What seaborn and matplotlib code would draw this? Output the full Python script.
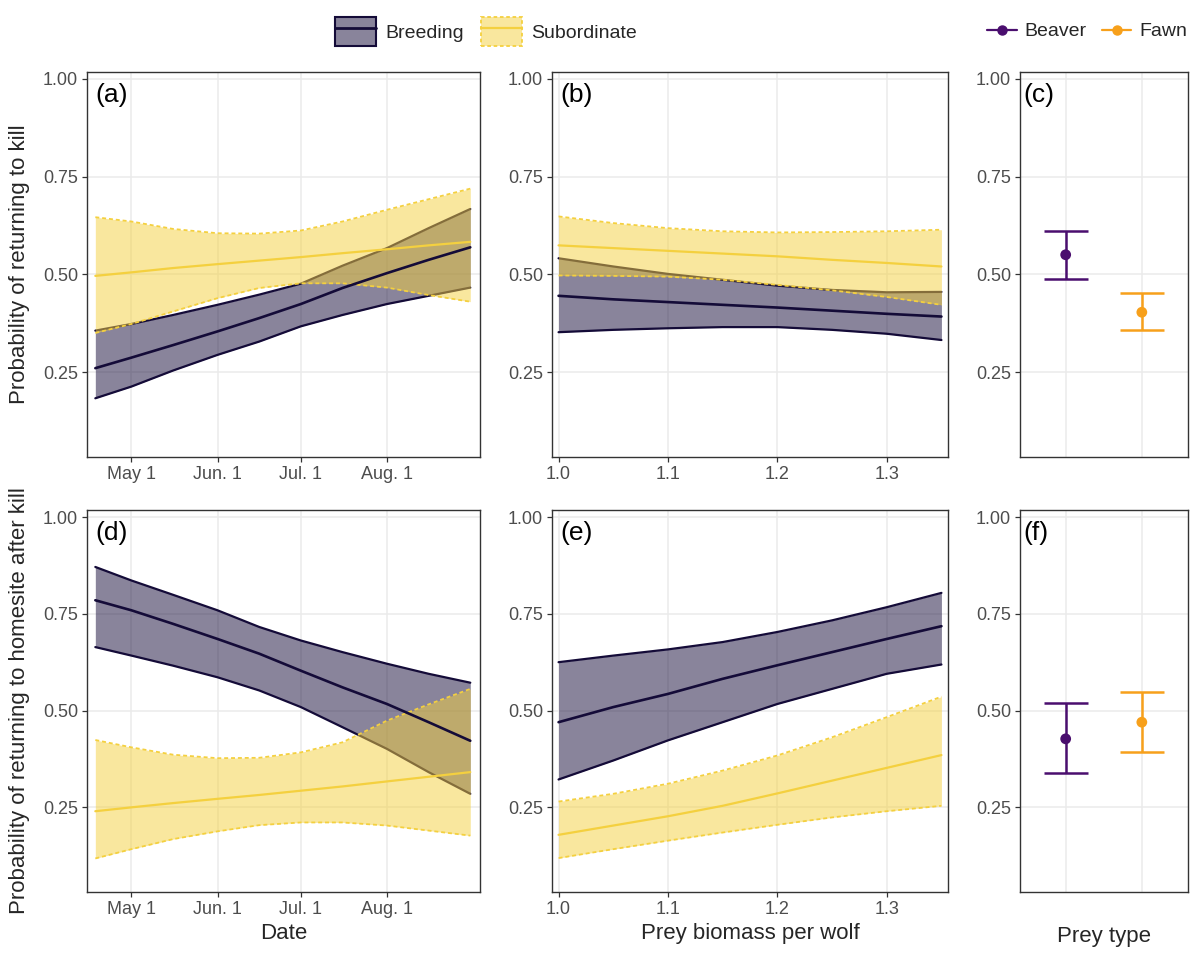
import seaborn as sns
import matplotlib.pyplot as plt
from matplotlib.patches import Patch
from matplotlib.lines import Line2D
from matplotlib.colors import to_rgba

# x values
doy = [108, 121, 136, 152, 167, 182, 197, 213, 228, 243]   # day of year
date_ticks = [121, 152, 182, 213]
date_labels = ["May 1", "Jun. 1", "Jul. 1", "Aug. 1"]
biomass = [1.0, 1.05, 1.1, 1.15, 1.2, 1.25, 1.3, 1.35]
biomass_ticks = [1.0, 1.1, 1.2, 1.3]
status = ["Breeding", "Subordinate"]
prey = ["Beaver", "Fawn"]

# (a) returning to kill ~ date
a_breed_fit = [0.260, 0.287, 0.319, 0.354, 0.388, 0.424, 0.465, 0.503, 0.537, 0.569]
a_breed_lo = [0.183, 0.213, 0.254, 0.294, 0.328, 0.367, 0.396, 0.424, 0.445, 0.466]
a_breed_hi = [0.356, 0.373, 0.396, 0.422, 0.448, 0.476, 0.522, 0.567, 0.618, 0.667]
a_sub_fit = [0.496, 0.505, 0.516, 0.526, 0.535, 0.544, 0.554, 0.564, 0.574, 0.583]
a_sub_lo = [0.350, 0.373, 0.405, 0.439, 0.465, 0.477, 0.477, 0.466, 0.447, 0.430]
a_sub_hi = [0.646, 0.635, 0.616, 0.605, 0.604, 0.612, 0.635, 0.665, 0.692, 0.719]

# (b) returning to kill ~ prey biomass
b_breed_fit = [0.445, 0.436, 0.429, 0.422, 0.415, 0.407, 0.399, 0.392]
b_breed_lo = [0.352, 0.358, 0.362, 0.365, 0.365, 0.358, 0.348, 0.332]
b_breed_hi = [0.541, 0.520, 0.501, 0.486, 0.471, 0.460, 0.454, 0.455]
b_sub_fit = [0.574, 0.567, 0.560, 0.553, 0.546, 0.537, 0.529, 0.520]
b_sub_lo = [0.497, 0.496, 0.494, 0.486, 0.473, 0.459, 0.442, 0.422]
b_sub_hi = [0.648, 0.631, 0.618, 0.610, 0.607, 0.608, 0.610, 0.614]

# (c) returning to kill ~ prey type
c_fit = [0.550, 0.403]
c_lo = [0.489, 0.358]
c_hi = [0.611, 0.451]

# (d) returning to homesite ~ date
d_breed_fit = [0.785, 0.759, 0.724, 0.685, 0.647, 0.603, 0.560, 0.517, 0.470, 0.422]
d_breed_lo = [0.664, 0.642, 0.616, 0.586, 0.552, 0.509, 0.457, 0.401, 0.341, 0.285]
d_breed_hi = [0.871, 0.836, 0.799, 0.759, 0.716, 0.681, 0.651, 0.621, 0.595, 0.572]
d_sub_fit = [0.240, 0.250, 0.261, 0.272, 0.282, 0.293, 0.304, 0.317, 0.329, 0.341]
d_sub_lo = [0.118, 0.142, 0.168, 0.188, 0.204, 0.211, 0.211, 0.203, 0.190, 0.177]
d_sub_hi = [0.424, 0.405, 0.386, 0.377, 0.378, 0.392, 0.418, 0.474, 0.516, 0.556]

# (e) returning to homesite ~ prey biomass
e_breed_fit = [0.470, 0.509, 0.543, 0.582, 0.617, 0.651, 0.685, 0.718]
e_breed_lo = [0.322, 0.371, 0.423, 0.470, 0.517, 0.556, 0.595, 0.619]
e_breed_hi = [0.625, 0.642, 0.658, 0.677, 0.703, 0.733, 0.767, 0.804]
e_sub_fit = [0.179, 0.203, 0.227, 0.254, 0.286, 0.319, 0.352, 0.385]
e_sub_lo = [0.119, 0.142, 0.164, 0.185, 0.205, 0.224, 0.240, 0.254]
e_sub_hi = [0.265, 0.285, 0.311, 0.345, 0.384, 0.431, 0.483, 0.536]

# (f) returning to homesite ~ prey type
f_fit = [0.427, 0.470]
f_lo = [0.339, 0.394]
f_hi = [0.520, 0.549]

breed_col = "#140B38"
sub_col = "#F4D03F"
prey_cols = ["#4A0E6E", "#F7A01B"]
grid_col = "#EBEBEB"
dash = (0, (2.2, 1.6))

sns.set_theme(style="white")
plt.rcParams["font.family"] = ["Liberation Sans", "DejaVu Sans"]

fig = plt.figure(figsize=(12, 9.6), dpi=100)

cols = [(0.0725, 0.3275), (0.46, 0.33), (0.85, 0.1396)]
rows = [(0.5236, 0.4017), (0.0711, 0.3976)]
axes = [[fig.add_axes([c[0], r[0], c[1], r[1]]) for c in cols] for r in rows]


def style(ax, letter):
    ax.set_ylim(0.032, 1.018)
    ax.set_yticks([0.25, 0.5, 0.75, 1.0])
    ax.set_yticklabels(["0.25", "0.50", "0.75", "1.00"])
    ax.grid(True, color=grid_col, linewidth=1.1)
    ax.set_axisbelow(True)
    for s in ax.spines.values():
        s.set_color("#333333")
        s.set_linewidth(1.0)
    ax.tick_params(axis="both", length=3.5, width=0.9, color="#333333",
                   labelcolor="#4D4D4D", labelsize=13, pad=3,
                   bottom=True, left=True)
    ax.text(0.022, 0.972, letter, transform=ax.transAxes, ha="left", va="top",
            fontsize=19, color="black")
    ax.set_xlabel("")
    ax.set_ylabel("")


def ribbons(ax, x, bfit, blo, bhi, sfit, slo, shi):
    # breeding band first, subordinate band laid over it
    ax.fill_between(x, blo, bhi, color=breed_col, alpha=0.5, linewidth=0, zorder=1.0)
    ax.plot(x, blo, color=breed_col, lw=1.6, zorder=1.1)
    ax.plot(x, bhi, color=breed_col, lw=1.6, zorder=1.1)
    ax.fill_between(x, slo, shi, color=sub_col, alpha=0.5, linewidth=0, zorder=1.2)
    ax.plot(x, slo, color=sub_col, lw=1.3, linestyle=dash, zorder=1.3)
    ax.plot(x, shi, color=sub_col, lw=1.3, linestyle=dash, zorder=1.3)
    sns.lineplot(x=x, y=bfit, ax=ax, color=breed_col, lw=1.9, zorder=2)
    sns.lineplot(x=x, y=sfit, ax=ax, color=sub_col, lw=1.6, zorder=2.1)


def points(ax, fit, lo, hi):
    pos = [1, 2]
    for i in range(2):
        ax.errorbar(pos[i], fit[i], yerr=[[fit[i] - lo[i]], [hi[i] - fit[i]]],
                    fmt="none", ecolor=prey_cols[i], elinewidth=1.8,
                    capsize=16, capthick=1.8)
    sns.scatterplot(x=pos, y=fit, hue=prey, palette=prey_cols, ax=ax,
                    s=60, edgecolor="none", legend=False, zorder=3)
    ax.set_xlim(0.4, 2.6)
    ax.set_xticks(pos)
    ax.set_xticklabels(["", ""])


# top row
ax = axes[0][0]
ribbons(ax, doy, a_breed_fit, a_breed_lo, a_breed_hi, a_sub_fit, a_sub_lo, a_sub_hi)
style(ax, "(a)")
ax.set_xlim(105, 246.5)
ax.set_xticks(date_ticks)
ax.set_xticklabels(date_labels)

ax = axes[0][1]
ribbons(ax, biomass, b_breed_fit, b_breed_lo, b_breed_hi, b_sub_fit, b_sub_lo, b_sub_hi)
style(ax, "(b)")
ax.set_xlim(0.994, 1.356)
ax.set_xticks(biomass_ticks)
ax.set_xticklabels(["1.0", "1.1", "1.2", "1.3"])

ax = axes[0][2]
points(ax, c_fit, c_lo, c_hi)
style(ax, "(c)")
ax.tick_params(axis="x", length=0)

# bottom row
ax = axes[1][0]
ribbons(ax, doy, d_breed_fit, d_breed_lo, d_breed_hi, d_sub_fit, d_sub_lo, d_sub_hi)
style(ax, "(d)")
ax.set_xlim(105, 246.5)
ax.set_xticks(date_ticks)
ax.set_xticklabels(date_labels)
ax.set_xlabel("Date", fontsize=16, labelpad=4)

ax = axes[1][1]
ribbons(ax, biomass, e_breed_fit, e_breed_lo, e_breed_hi, e_sub_fit, e_sub_lo, e_sub_hi)
style(ax, "(e)")
ax.set_xlim(0.994, 1.356)
ax.set_xticks(biomass_ticks)
ax.set_xticklabels(["1.0", "1.1", "1.2", "1.3"])
ax.set_xlabel("Prey biomass per wolf", fontsize=16, labelpad=4)

ax = axes[1][2]
points(ax, f_fit, f_lo, f_hi)
style(ax, "(f)")
ax.tick_params(axis="x", length=0)
ax.set_xlabel("Prey type", fontsize=16, labelpad=22)

axes[0][0].set_ylabel("Probability of returning to kill", fontsize=16)
axes[0][0].yaxis.set_label_coords(-0.145, 0.5)
axes[1][0].set_ylabel("Probability of returning to homesite after kill", fontsize=16)
axes[1][0].yaxis.set_label_coords(-0.145, 0.5)

# legends
breed_h = (Patch(facecolor=to_rgba(breed_col, 0.5), edgecolor=breed_col, linewidth=1.5),
           Line2D([], [], color=breed_col, lw=2))
sub_h = (Patch(facecolor=to_rgba(sub_col, 0.5), edgecolor=sub_col, linewidth=1.3,
               linestyle=(0, (2, 1.5))),
         Line2D([], [], color=sub_col, lw=1.6))
fig.legend(handles=[breed_h, sub_h], labels=status, loc="center",
           bbox_to_anchor=(0.405, 0.967), ncol=2, frameon=False, fontsize=14,
           handlelength=2.1, handleheight=1.9, handletextpad=0.45,
           columnspacing=0.9)

prey_h = [Line2D([], [], color=c, lw=1.6, marker="o", markersize=6.5) for c in prey_cols]
fig.legend(handles=prey_h, labels=prey, loc="center",
           bbox_to_anchor=(0.906, 0.967), ncol=2, frameon=False, fontsize=14,
           handlelength=1.5, handletextpad=0.4, columnspacing=0.8)

fig.savefig("out.png", dpi=100)
